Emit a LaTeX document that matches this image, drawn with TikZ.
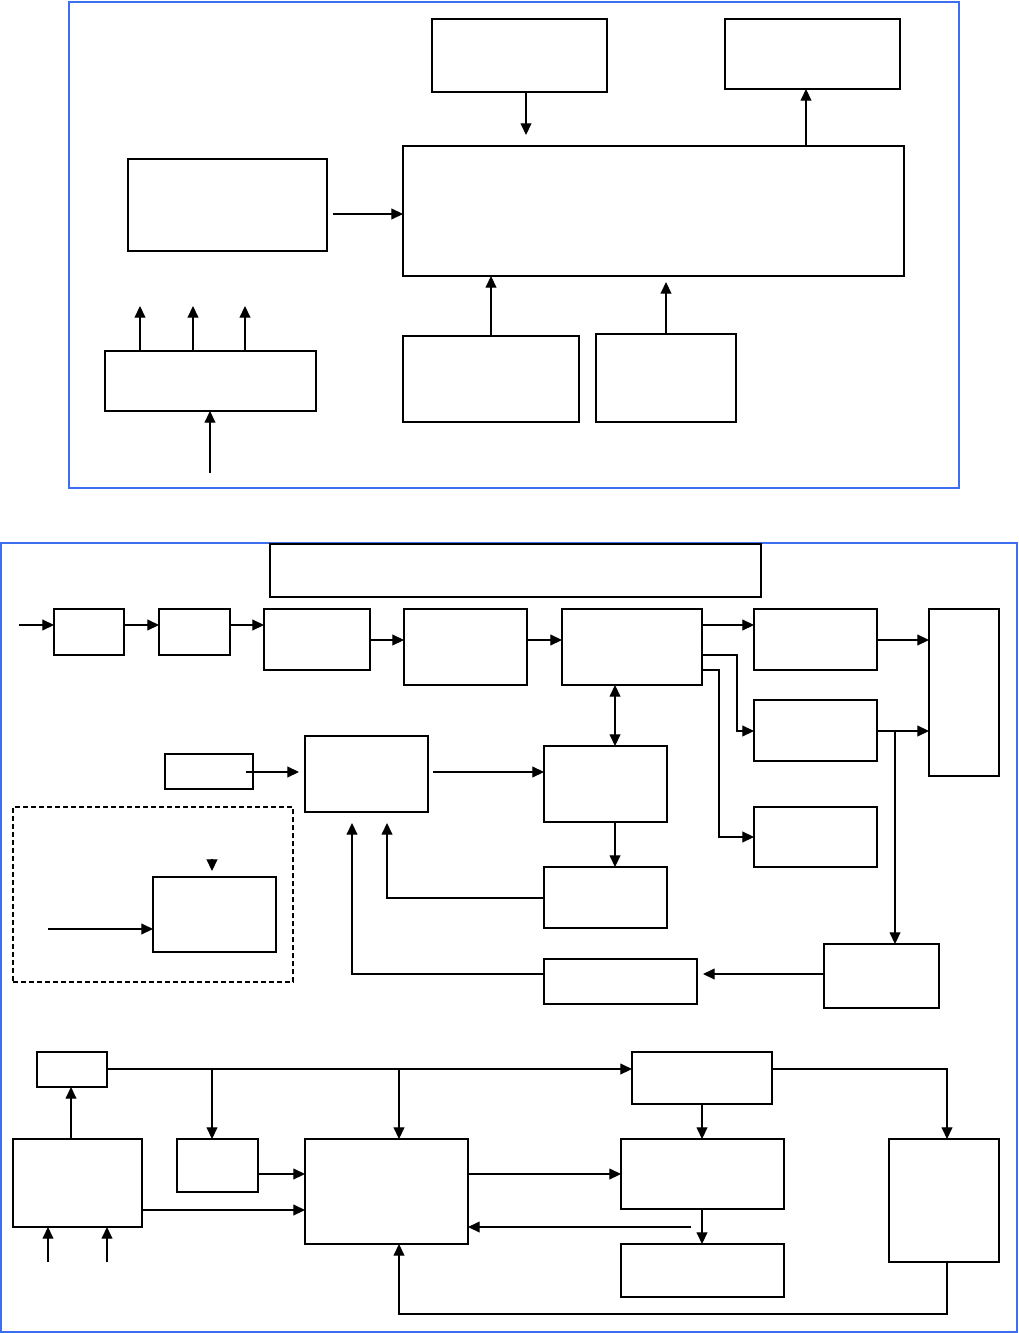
\documentclass[tikz,border=0pt]{standalone}
\usetikzlibrary{arrows.meta}
\definecolor{frameblue}{RGB}{61,110,240}
\newcommand\bx[6][box]{\node[#1,minimum width={(#5-#3)*0.75pt},minimum height={(#6-#4)*0.75pt}] (#2) at ({(#3+#5)/2},{(#4+#6)/2}) {};}
\newcommand\HX[1]{\coordinate (X#1) at (#1,0);}
\newcommand\HY[1]{\coordinate (Y#1) at (0,#1);}
\begin{document}
\begin{tikzpicture}[x=0.75pt,y=-0.75pt,
  box/.style={draw,line width=1.15pt,inner sep=0pt,outer sep=0pt},
  framebox/.style={draw=frameblue,line width=1.1pt,inner sep=0pt,outer sep=0pt},
  dashbox/.style={draw,line width=0.9pt,dash pattern=on 3.75pt off 2.25pt,inner sep=0pt,outer sep=0pt},
  arr/.style={line width=0.85pt,-{Triangle[length=8.8pt,width=8.2pt]}},
  arrboth/.style={line width=0.85pt,{Triangle[length=8.8pt,width=8.2pt]}-{Triangle[length=8.8pt,width=8.2pt]}}]
\useasboundingbox (0,0) rectangle (1019,1333);

% helper coordinates
\HX{526}\HX{806}\HX{491}\HX{666}\HX{140}\HX{193}\HX{245}
\HX{737}\HX{719}\HX{895}\HX{615}\HX{387}\HX{352}
\HX{71}\HX{212}\HX{399}\HX{702}\HX{947}
\HY{625}\HY{640}\HY{655}\HY{670}\HY{731}\HY{837}\HY{898}\HY{823}\HY{974}
\HY{1069}\HY{1174}\HY{1210}\HY{1314}

% ---------- top panel ----------
\bx[framebox]{F1}{69}{2}{959}{488}
\bx{A}{432}{19}{607}{92}
\bx{B}{725}{19}{900}{89}
\bx{M}{403}{146}{904}{276}
\bx{L}{128}{159}{327}{251}
\bx{P}{105}{351}{316}{411}
\bx{Q}{403}{336}{579}{422}
\bx{R}{596}{334}{736}{422}

\coordinate (aT) at (526,135);
\coordinate (rT) at (666,282);
\coordinate (lOut) at (333,214);
\coordinate (pu1) at (140,306);
\coordinate (pu2) at (193,306);
\coordinate (pu3) at (245,306);
\coordinate (pin) at (210,473);

\draw[arr] (A.south -| X526) -- (aT);
\draw[arr] (M.north -| X806) -- (B.south -| X806);
\draw[arr] (lOut) -- (M.west |- lOut);
\draw[arr] (Q.north -| X491) -- (M.south -| X491);
\draw[arr] (R.north -| X666) -- (rT);
\draw[arr] (P.north -| X140) -- (pu1);
\draw[arr] (P.north -| X193) -- (pu2);
\draw[arr] (P.north -| X245) -- (pu3);
\draw[arr] (pin) -- (P.south -| pin);

% ---------- middle / bottom panel ----------
\bx[framebox]{F2}{1}{543}{1017}{1332}
\bx{T}{270}{544}{761}{597}
\bx{b1}{54}{609}{124}{655}
\bx{b2}{159}{609}{230}{655}
\bx{b3}{264}{609}{370}{670}
\bx{b4}{404}{609}{527}{685}
\bx{b5}{562}{609}{702}{685}
\bx{c1}{754}{609}{877}{670}
\bx{c2}{754}{700}{877}{761}
\bx{c3}{754}{807}{877}{867}
\bx{V}{929}{609}{999}{776}
\bx{d1}{544}{746}{667}{822}
\bx{d2}{544}{867}{667}{928}
\bx{e}{305}{736}{428}{812}
\bx{s}{165}{754}{253}{789}
\bx[dashbox]{D}{13}{807}{293}{982}
\bx{k}{153}{877}{276}{952}
\bx{g}{824}{944}{939}{1008}
\bx{f}{544}{959}{697}{1004}

\coordinate (in0) at (19,625);
\coordinate (eOut) at (433,772);
\coordinate (sOut) at (246,772);
\coordinate (eIn) at (299,772);
\coordinate (kin) at (48,929);
\coordinate (kh1) at (212,859);
\coordinate (kh2) at (212,871);
\coordinate (fT) at (703,974);

\draw[arr] (in0) -- (b1.west |- in0);
\draw[arr] (b1.east |- Y625) -- (b2.west |- Y625);
\draw[arr] (b2.east |- Y625) -- (b3.west |- Y625);
\draw[arr] (b3.east |- Y640) -- (b4.west |- Y640);
\draw[arr] (b4.east |- Y640) -- (b5.west |- Y640);
\draw[arr] (b5.east |- Y625) -- (c1.west |- Y625);
\draw[arr] (c1.east |- Y640) -- (V.west |- Y640);
\draw[arr] (b5.east |- Y655) -- (X737 |- Y655) -- (X737 |- Y731) -- (c2.west |- Y731);
\draw[arr] (c2.east |- Y731) -- (V.west |- Y731);
\draw[arr] (X895 |- Y731) -- (g.north -| X895);
\draw[arr] (b5.east |- Y670) -- (X719 |- Y670) -- (X719 |- Y837) -- (c3.west |- Y837);
\draw[arrboth] (b5.south -| X615) -- (d1.north -| X615);
\draw[arr] (d1.south -| X615) -- (d2.north -| X615);
\draw[arr] (d2.west |- Y898) -- (X387 |- Y898) -- (X387 |- Y823);
\draw[arr] (eOut) -- (d1.west |- eOut);
\draw[arr] (sOut) -- (eIn);
\draw[arr] (kin) -- (k.west |- kin);
\draw[arr] (kh1) -- (kh2);
\draw[arr] (g.west |- Y974) -- (fT);
\draw[arr] (f.west |- Y974) -- (X352 |- Y974) -- (X352 |- Y823);

% ---------- bottom section ----------
\bx{h}{37}{1052}{107}{1087}
\bx{i}{13}{1139}{142}{1227}
\bx{m}{177}{1139}{258}{1192}
\bx{n}{305}{1139}{468}{1244}
\bx{j}{632}{1052}{772}{1104}
\bx{o}{621}{1139}{784}{1209}
\bx{p}{621}{1244}{784}{1297}
\bx{q}{889}{1139}{999}{1262}

\coordinate (iin1) at (48,1262);
\coordinate (iin2) at (107,1262);
\coordinate (oL) at (691,1227);

\draw[arr] (i.north -| X71) -- (h.south -| X71);
\draw[arr] (iin1) -- (i.south -| iin1);
\draw[arr] (iin2) -- (i.south -| iin2);
\draw[arr] (h.east |- Y1069) -- (j.west |- Y1069);
\draw[arr] (X212 |- Y1069) -- (m.north -| X212);
\draw[arr] (X399 |- Y1069) -- (n.north -| X399);
\draw[arr] (m.east |- Y1174) -- (n.west |- Y1174);
\draw[arr] (i.east |- Y1210) -- (n.west |- Y1210);
\draw[arr] (n.east |- Y1174) -- (o.west |- Y1174);
\draw[arr] (oL) -- (n.east |- oL);
\draw[arr] (j.south -| X702) -- (o.north -| X702);
\draw[arr] (o.south -| X702) -- (p.north -| X702);
\draw[arr] (j.east |- Y1069) -- (X947 |- Y1069) -- (q.north -| X947);
\draw[arr] (q.south -| X947) -- (X947 |- Y1314) -- (X399 |- Y1314) -- (n.south -| X399);
\end{tikzpicture}
\end{document}
